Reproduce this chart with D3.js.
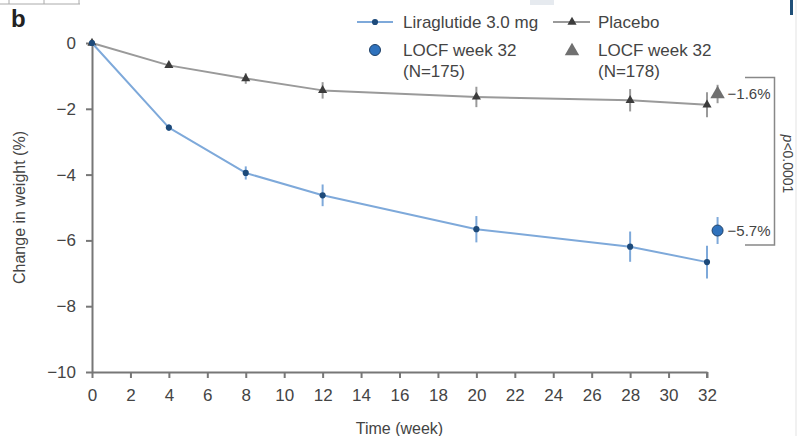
<!DOCTYPE html>
<html>
<head>
<meta charset="utf-8">
<script src="https://cdn.jsdelivr.net/npm/d3@7"></script>
<style>
  body { margin: 0; background: #fff; }
  svg { display: block; font-family: "Liberation Sans", Arial, sans-serif; }
</style>
</head>
<body>
<svg id="chart" width="797" height="436"></svg>
<script>
const weeks = [0, 4, 8, 12, 20, 28, 32];
const liraMean = [0, -2.57, -3.95, -4.63, -5.66, -6.19, -6.66];
const liraErr = [0, 0.1, 0.2, 0.33, 0.4, 0.46, 0.5];
const placeboMean = [0, -0.68, -1.08, -1.44, -1.64, -1.74, -1.88];
const placeboErr = [0, 0.08, 0.16, 0.25, 0.31, 0.34, 0.38];
const locfWeek = 32.55;
const liraLocf = { mean: -5.7, err: 0.41, label: '\u22125.7%' };
const placeboLocf = { mean: -1.55, err: 0.28, label: '\u22121.6%' };
const xTicks = d3.range(0, 33, 2);
const yTicks = [0, -2, -4, -6, -8, -10];

const blueLine = '#7ea9da';
const blueDot = '#1d4a7a';
const greyLine = '#9a9a9a';
const greyDot = '#3c3c3c';
const axisColor = '#777';
const textColor = '#444';

const svg = d3.select('#chart');

const xs = d3.scaleLinear().domain([0, 32]).range([92, 707]);
const ys = d3.scaleLinear().domain([0, -10]).range([43, 372]);

// page remnants
svg.append('path').attr('d', 'M0,4H80M9,0V4M44,0V4M79,0V4').attr('stroke', '#aaa').attr('fill', 'none');
svg.append('rect').attr('x', 530).attr('y', 0).attr('width', 24).attr('height', 5).attr('fill', '#e6eaef');
svg.append('rect').attr('x', 790).attr('y', 0).attr('width', 3).attr('height', 15).attr('fill', '#1f4f78');
svg.append('rect').attr('x', 795).attr('y', 0).attr('width', 2).attr('height', 436).attr('fill', '#f1f1f1');

svg.append('text').attr('x', 11).attr('y', 27).attr('font-size', 24).attr('font-weight', 'bold')
    .attr('fill', '#222').text('b');

// axes
const xAxis = svg.append('g')
    .attr('transform', `translate(0,${ys(-10)})`)
    .call(d3.axisBottom(xs).tickValues(xTicks).tickSize(6).tickPadding(11).tickSizeOuter(0));
const yAxis = svg.append('g')
    .attr('transform', `translate(${xs(0)},0)`)
    .call(d3.axisLeft(ys).tickValues(yTicks).tickSize(6).tickPadding(10).tickSizeOuter(0)
        .tickFormat(d => d < 0 ? '\u2212' + Math.abs(d) : d));
[xAxis, yAxis].forEach(g => {
    g.select('.domain').attr('stroke', axisColor).attr('stroke-width', 2);
    g.selectAll('.tick line').attr('stroke', axisColor).attr('stroke-width', 2);
    g.selectAll('.tick text').attr('fill', textColor).attr('font-size', 17)
        .attr('font-family', '"Liberation Sans", Arial, sans-serif');
});
// x axis end cap at 32
xAxis.append('line').attr('x1', xs(32)).attr('x2', xs(32)).attr('y1', 0).attr('y2', 6)
    .attr('stroke', axisColor).attr('stroke-width', 2);

svg.append('text').attr('x', (xs(0) + xs(32)) / 2).attr('y', 434).attr('text-anchor', 'middle')
    .attr('font-size', 16).attr('fill', textColor).text('Time (week)');
svg.append('text').attr('transform', `translate(25,${(ys(0) + ys(-10)) / 2}) rotate(-90)`)
    .attr('text-anchor', 'middle').attr('font-size', 16).attr('fill', textColor).text('Change in weight (%)');

const line = d3.line().x(d => xs(d[0])).y(d => ys(d[1]));

const drawSeries = (means, errs, lineColor, dotColor, marker) => {
    const pts = weeks.map((w, i) => [w, means[i], errs[i]]);
    svg.append('path').datum(pts).attr('d', line).attr('fill', 'none')
        .attr('stroke', lineColor).attr('stroke-width', 2).attr('stroke-linejoin', 'round');
    svg.append('g').selectAll('line').data(pts.filter(d => d[2] > 0)).enter().append('line')
        .attr('x1', d => xs(d[0])).attr('x2', d => xs(d[0]))
        .attr('y1', d => ys(d[1] + d[2])).attr('y2', d => ys(d[1] - d[2]))
        .attr('stroke', lineColor).attr('stroke-width', 2);
    svg.append('g').selectAll('path').data(pts).enter().append('path')
        .attr('d', marker)
        .attr('transform', d => `translate(${xs(d[0])},${ys(d[1])})`)
        .attr('fill', dotColor);
};

const circleSmall = d3.symbol(d3.symbolCircle, 30)();
const triSmall = d3.symbol(d3.symbolTriangle, 36)();

drawSeries(placeboMean, placeboErr, greyLine, greyDot, triSmall);
drawSeries(liraMean, liraErr, blueLine, blueDot, circleSmall);

// LOCF week 32
[[liraLocf, blueLine], [placeboLocf, greyLine]].forEach(([p, c]) => {
    svg.append('line').attr('x1', xs(locfWeek)).attr('x2', xs(locfWeek))
        .attr('y1', ys(p.mean + p.err)).attr('y2', ys(p.mean - p.err))
        .attr('stroke', c).attr('stroke-width', 2);
});
svg.append('circle').attr('cx', xs(locfWeek)).attr('cy', ys(liraLocf.mean)).attr('r', 5.5)
    .attr('fill', '#2f72bd').attr('stroke', '#1d3f66').attr('stroke-width', 1);
svg.append('path').attr('d', d3.symbol(d3.symbolTriangle, 90)())
    .attr('transform', `translate(${xs(locfWeek)},${ys(placeboLocf.mean)})`).attr('fill', '#707070');
[liraLocf, placeboLocf].forEach(p => {
    svg.append('text').attr('x', xs(locfWeek) + 10).attr('y', ys(p.mean) + 5)
        .attr('font-size', 15).attr('fill', textColor).text(p.label);
});

// bracket
svg.append('path').attr('d', 'M745,77.5H774.5V245H745').attr('fill', 'none')
    .attr('stroke', '#888').attr('stroke-width', 1.5);
const pText = svg.append('text').attr('transform', 'translate(783,164) rotate(90)')
    .attr('text-anchor', 'middle').attr('font-size', 14).attr('fill', textColor);
pText.append('tspan').attr('font-style', 'italic').text('p');
pText.append('tspan').text('<0.0001');

// legend
const legend = svg.append('g');
legend.append('line').attr('x1', 357).attr('x2', 393).attr('y1', 22).attr('y2', 22)
    .attr('stroke', blueLine).attr('stroke-width', 2);
legend.append('path').attr('d', circleSmall).attr('transform', 'translate(375,22)').attr('fill', blueDot);
legend.append('text').attr('x', 403).attr('y', 28).attr('font-size', 17).attr('fill', textColor).text('Liraglutide 3.0 mg');
legend.append('line').attr('x1', 553).attr('x2', 590).attr('y1', 22).attr('y2', 22)
    .attr('stroke', greyLine).attr('stroke-width', 2);
legend.append('path').attr('d', triSmall).attr('transform', 'translate(572,22)').attr('fill', greyDot);
legend.append('text').attr('x', 598).attr('y', 28).attr('font-size', 17).attr('fill', textColor).text('Placebo');

legend.append('circle').attr('cx', 375).attr('cy', 50).attr('r', 5.5)
    .attr('fill', '#2f72bd').attr('stroke', '#1d3f66').attr('stroke-width', 1);
legend.append('path').attr('d', d3.symbol(d3.symbolTriangle, 90)())
    .attr('transform', 'translate(572,51)').attr('fill', '#707070');
[[403, '(N=175)'], [598, '(N=178)']].forEach(([x, n]) => {
    const t = legend.append('text').attr('x', x).attr('y', 56).attr('font-size', 17).attr('fill', textColor);
    t.append('tspan').attr('x', x).text('LOCF week 32');
    t.append('tspan').attr('x', x).attr('dy', 21).text(n);
});
</script>
</body>
</html>
